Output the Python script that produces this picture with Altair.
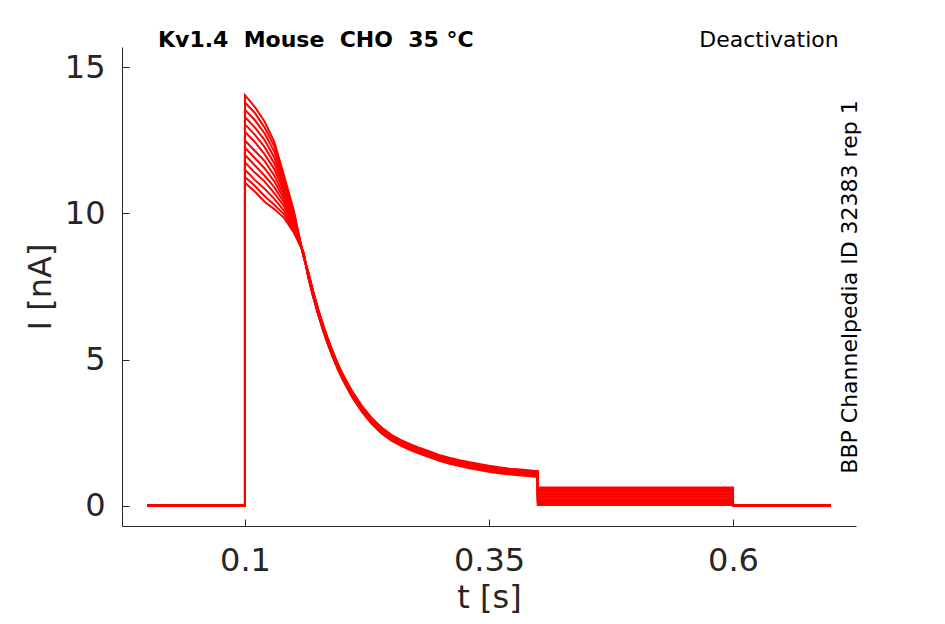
import altair as alt
import pandas as pd

# ---- data (13 sweeps) ----
T_START = 0.0
T_STEP_ON = 0.1
T_ACT = [0.1, 0.11, 0.12, 0.13, 0.14, 0.15, 0.16]
ACT_0100 = [14.05, 13.8, 13.55, 13.3, 13.05, 12.8, 12.5, 12.25, 12.0, 11.75, 11.5, 11.25, 11.05]
ACT_0110 = [13.65, 13.45, 13.2, 12.95, 12.7, 12.45, 12.15, 11.9, 11.65, 11.4, 11.15, 10.95, 10.75]
ACT_0120 = [13.15, 12.95, 12.75, 12.52, 12.28, 12.03, 11.8, 11.55, 11.3, 11.1, 10.85, 10.6, 10.4]
ACT_0130 = [12.45, 12.3, 12.12, 11.92, 11.72, 11.52, 11.3, 11.1, 10.9, 10.7, 10.5, 10.3, 10.15]
ACT_0140 = [11.3, 11.2, 11.1, 10.98, 10.88, 10.75, 10.62, 10.5, 10.38, 10.25, 10.1, 9.97, 9.85]
ACT_0150 = [10.1, 10.05, 10.0, 9.95, 9.9, 9.82, 9.76, 9.7, 9.62, 9.55, 9.48, 9.4, 9.35]
ACT_0160 = [8.5, 8.52, 8.54, 8.56, 8.58, 8.6, 8.6, 8.62, 8.62, 8.64, 8.64, 8.66, 8.66]

T_DECAY = [0.165, 0.17, 0.175, 0.18, 0.185, 0.19, 0.195, 0.20, 0.21, 0.22, 0.23,
           0.24, 0.25, 0.26, 0.27, 0.28, 0.29, 0.30, 0.31, 0.32, 0.33, 0.34,
           0.35, 0.36, 0.37, 0.38, 0.39, 0.40]
I_DECAY = [7.88, 7.22, 6.63, 6.09, 5.61, 5.17, 4.77, 4.41, 3.80, 3.30, 2.89,
           2.57, 2.32, 2.14, 1.99, 1.86, 1.74, 1.62, 1.53, 1.45, 1.38, 1.32,
           1.26, 1.21, 1.17, 1.14, 1.11, 1.08]
DECAY_OFFSET = [0.1, 0.08, 0.07, 0.05, 0.03, 0.02, 0.0, -0.02, -0.03, -0.05, -0.07, -0.08, -0.1]

T_DEACT_ON = 0.4
T_DEACT_OFF = 0.6
DEACT_LEVEL = [0.62, 0.57, 0.52, 0.47, 0.42, 0.37, 0.32, 0.27, 0.22, 0.17, 0.12, 0.07, 0.02]
T_END = 0.7

X_TICKS = [0.1, 0.35, 0.6]
Y_TICKS = [0, 5, 10, 15]

# ---- build table ----
act_cols = [ACT_0100, ACT_0110, ACT_0120, ACT_0130, ACT_0140, ACT_0150, ACT_0160]
rows = []
for s in range(len(ACT_0100)):
    pts = [(T_START, 0.0), (T_STEP_ON, 0.0)]
    for t, col in zip(T_ACT, act_cols):
        pts.append((t, col[s]))
    for t, v in zip(T_DECAY, I_DECAY):
        pts.append((t, v + DECAY_OFFSET[s]))
    pts.append((T_DEACT_ON, DEACT_LEVEL[s]))
    pts.append((T_DEACT_OFF, DEACT_LEVEL[s]))
    pts.append((T_DEACT_OFF, 0.0))
    pts.append((T_END, 0.0))
    for k, (t, v) in enumerate(pts):
        rows.append({"t": t, "I": v, "sweep": s, "k": k})
df = pd.DataFrame(rows)

FONT = "DejaVu Sans"
DARK = "#262626"
W, H = 734, 479
NB = "\u00a0"

lines = alt.Chart(df).mark_line(color="#ff0000", strokeWidth=2).encode(
    x=alt.X("t:Q",
            scale=alt.Scale(domain=[-0.026, 0.726], nice=False, zero=False),
            axis=alt.Axis(values=X_TICKS, labelExpr="format(datum.value, '.2~f')",
                          title="t [s]",
                          ticks=False, grid=True, gridColor=DARK, gridWidth=1,
                          gridDash=[7, H - 7], gridDashOffset=7, gridOpacity=1,
                          labelPadding=19, titleY=81, titleBaseline="alphabetic")),
    y=alt.Y("I:Q",
            scale=alt.Scale(domain=[-0.7, 15.7], nice=False, zero=False),
            axis=alt.Axis(values=Y_TICKS, format="d", title="I [nA]",
                          ticks=False, grid=True, gridColor=DARK, gridWidth=1,
                          gridDash=[7, 3000], gridOpacity=1,
                          labelPadding=17, titleX=-72, titleBaseline="alphabetic")),
    detail="sweep:N",
    order="k:Q",
)

title_txt = alt.Chart().mark_text(
    text=f"Kv1.4 {NB}Mouse {NB}CHO {NB}35 °C", font=FONT, fontSize=22, fontWeight="bold",
    align="left", baseline="alphabetic", color="#000000"
).encode(x=alt.value(36), y=alt.value(0))

deact_txt = alt.Chart().mark_text(
    text="Deactivation", font=FONT, fontSize=22, align="center",
    baseline="alphabetic", color="#000000"
).encode(x=alt.value(647), y=alt.value(0))

id_txt = alt.Chart().mark_text(
    text="BBP Channelpedia ID 32383 rep 1", font=FONT, fontSize=22, angle=270,
    align="center", baseline="middle", color="#000000"
).encode(x=alt.value(728), y=alt.value(240))

chart = alt.layer(lines, title_txt, deact_txt, id_txt).properties(
    width=W, height=H,
    autosize=alt.AutoSizeParams(type="none"),
    padding={"left": 114, "top": 39, "right": 81, "bottom": 90},
    background="white",
).configure_view(strokeWidth=0).configure_axis(
    domainColor=DARK, domainWidth=1, labelColor=DARK, titleColor=DARK,
    labelFont=FONT, titleFont=FONT, labelFontSize=32, titleFontSize=32,
    titleFontWeight="normal",
)

chart.save("out.html", embed_options={"renderer": "svg", "actions": False})
